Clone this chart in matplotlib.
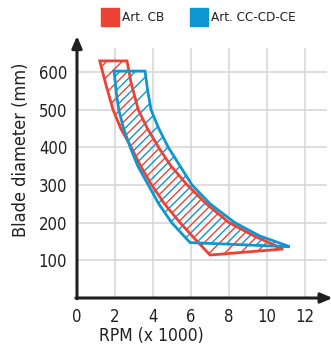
import numpy as np
import matplotlib.pyplot as plt
from matplotlib.patches import Polygon, Patch

plt.rcParams['font.family'] = ['DejaVu Sans']
plt.rcParams['font.stretch'] = 'condensed'

# boundary points (RPM x1000, diameter mm)
cb_left_rpm = [1.2, 1.5, 1.9, 2.3, 2.85, 3.35, 3.93, 4.6, 5.42, 6.2, 7.0]
cb_left_d = [629, 570, 499, 450, 400, 350, 300, 250, 200, 157, 114]
cb_right_rpm = [10.85, 9.3, 8.0, 6.8, 5.8, 4.95, 4.35, 3.7, 3.23, 2.85, 2.63]
cb_right_d = [130, 165, 200, 250, 300, 350, 395, 450, 499, 570, 629]

cc_left_rpm = [1.95, 2.08, 2.2, 2.45, 2.8, 3.2, 3.75, 4.3, 4.98, 5.95]
cc_left_d = [602, 540, 499, 450, 400, 350, 300, 250, 200, 147]
cc_right_rpm = [11.2, 9.6, 8.3, 7.0, 6.05, 5.3, 4.8, 4.3, 3.9, 3.72, 3.58]
cc_right_d = [136, 165, 200, 250, 300, 360, 400, 450, 499, 550, 602]

series = ['Art. CB', 'Art. CC-CD-CE']
colors = ['#EC4236', '#0E96D0']
x_ticks = [0, 2, 4, 6, 8, 10, 12]
y_ticks = [100, 200, 300, 400, 500, 600]
txt = '#231F20'

fig = plt.figure(figsize=(3.31, 3.52), dpi=100)
ax = fig.add_axes([0.2326, 0.1534, 0.755, 0.710])

shapes = [
    (cb_left_rpm + cb_right_rpm, cb_left_d + cb_right_d),
    (cc_left_rpm + cc_right_rpm, cc_left_d + cc_right_d),
]
step = 0.062          # hatch spacing in axes units (~15 px)
phases = [0.0, 0.031]  # blue hatch sits between the red lines
for (xs, ys), c, ph in zip(shapes, colors, phases):
    outline = Polygon(list(zip(xs, ys)), closed=True, fill=False,
                      edgecolor=c, lw=2.0, joinstyle='miter', zorder=4)
    ax.add_patch(outline)
    # diagonal hatch, clipped to the shape
    for t in np.arange(-1.2 + ph, 1.2, step):
        ln, = ax.plot([t, t + 1], [0, 1], color=c, lw=1.0,
                      transform=ax.transAxes, zorder=3)
        ln.set_clip_path(outline)

ax.set_xlim(0, 13.15)
ax.set_ylim(0, 663)
ax.set_xticks(x_ticks)
ax.set_yticks(y_ticks)
ax.grid(True, color='#D4D4D4', lw=1.1)
ax.set_axisbelow(True)
ax.tick_params(length=0, labelsize=12, colors=txt, pad=7)
for s in ax.spines.values():
    s.set_visible(False)

# axes with arrow heads
ax.annotate('', xy=(0, 695), xytext=(0, -2), xycoords='data',
            arrowprops=dict(arrowstyle='-|>,head_length=0.7,head_width=0.3',
                            lw=2.2, color=txt, shrinkA=0, shrinkB=0),
            annotation_clip=False)
ax.annotate('', xy=(13.45, 0), xytext=(-0.06, 0), xycoords='data',
            arrowprops=dict(arrowstyle='-|>,head_length=0.7,head_width=0.3',
                            lw=2.2, color=txt, shrinkA=0, shrinkB=0),
            annotation_clip=False)

ax.set_xlabel('RPM (x 1000)', fontsize=12.5, color=txt)
ax.xaxis.set_label_coords(0.296, -0.115)
ax.set_ylabel('Blade diameter (mm)', fontsize=13, color=txt)
ax.yaxis.set_label_coords(-0.19, 0.592)

handles = [Patch(facecolor=c, edgecolor=c) for c in colors]
fig.legend(handles, series, loc='upper left', bbox_to_anchor=(0.285, 0.997),
           ncol=2, frameon=False, fontsize=9.6, handlelength=1.35,
           handleheight=1.7, handletextpad=0.25, columnspacing=1.9,
           borderpad=0, labelcolor=txt)

fig.savefig('out.png', dpi=100)
